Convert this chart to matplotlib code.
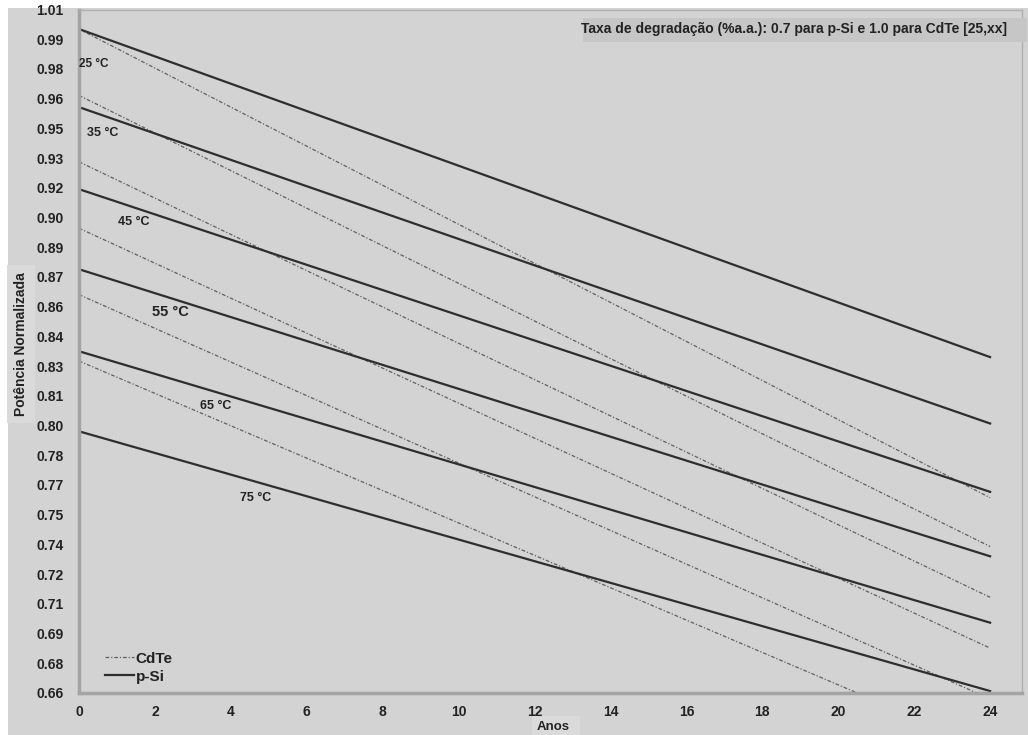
import numpy as np
import matplotlib
matplotlib.use("Agg")
import matplotlib.pyplot as plt
from matplotlib.patches import Rectangle

plt.rcParams["font.family"] = ["Liberation Sans", "DejaVu Sans"]

# dados (retas: valor no ano 0 e no ano 24)
anos = [0, 24]
temperaturas = ["25 °C", "35 °C", "45 °C", "55 °C", "65 °C", "75 °C"]
psi_inicio = [1.000, 0.960, 0.918, 0.877, 0.835, 0.794]
psi_fim = [0.832, 0.798, 0.763, 0.730, 0.696, 0.661]
cdte_inicio = [1.000, 0.966, 0.932, 0.898, 0.864, 0.830]
cdte_fim = [0.760, 0.735, 0.709, 0.683, 0.657, 0.631]

# posicao dos rotulos de temperatura (ano, potencia)
rotulo_x = [0.40, 0.63, 1.44, 2.42, 3.60, 4.66]
rotulo_y = [0.982, 0.947, 0.901, 0.855, 0.807, 0.760]
rotulo_tam = [8.5, 9, 9, 10.5, 9, 9]

ytick_labels = ["0.66", "0.68", "0.69", "0.71", "0.72", "0.74", "0.75", "0.77",
                "0.78", "0.80", "0.81", "0.83", "0.84", "0.86", "0.87", "0.89",
                "0.90", "0.92", "0.93", "0.95", "0.96", "0.98", "0.99", "1.01"]
xticks = list(range(0, 25, 2))

W, H = 1028, 735
fundo = "#d3d3d3"
fig = plt.figure(figsize=(W / 100, H / 100), dpi=100, facecolor="white")
fig.patches.append(Rectangle((8 / W, 0), 1 - 8 / W, 1 - 8 / H,
                             transform=fig.transFigure, facecolor=fundo,
                             edgecolor="none", zorder=-10))

aw = 1022 - 79
ah = 693 - 9.5
ax = fig.add_axes([79 / W, 1 - 693 / H, aw / W, ah / H])
ax.set_facecolor(fundo)

for i in range(len(temperaturas)):
    ax.plot(anos, [cdte_inicio[i], cdte_fim[i]], color="#606060", lw=0.9,
            linestyle=(0, (3, 1.5, 1, 1.5)), label="CdTe" if i == 0 else None)
    ax.plot(anos, [psi_inicio[i], psi_fim[i]], color="#2e2e2e", lw=1.6,
            label="p-Si" if i == 0 else None)
    ax.text(rotulo_x[i], rotulo_y[i], temperaturas[i], fontsize=rotulo_tam[i],
            fontweight="bold", color="#222222", ha="center", va="center")

ax.set_xlim(0, 24.84)
ax.set_ylim(0.66, 1.01)
ax.set_xticks(xticks)
ax.set_xticklabels([str(x) for x in xticks])
ax.set_yticks(np.linspace(0.66, 1.01, len(ytick_labels)))
ax.set_yticklabels(ytick_labels)
ax.tick_params(length=0, labelsize=10, colors="#222222")
ax.tick_params(axis="y", pad=11)
ax.tick_params(axis="x", pad=9)
for lab in ax.get_xticklabels() + ax.get_yticklabels():
    lab.set_fontweight("bold")

for s in ["top", "right"]:
    ax.spines[s].set_color("#b0b0b0")
    ax.spines[s].set_linewidth(1.0)
for s in ["left", "bottom"]:
    ax.spines[s].set_color("#a4a4a4")
    ax.spines[s].set_linewidth(2.5)

ax.set_ylabel("Potência Normalizada", fontsize=10, fontweight="bold", color="#222222",
              bbox=dict(facecolor="#dadada", edgecolor="none", pad=5))
ax.yaxis.set_label_coords((28 - 79) / aw, (693 - 344) / ah)

# caixa do rotulo "Anos" desenhada atras dos numeros do eixo
fig.patches.append(Rectangle((532 / W, 0), (580 - 532) / W, (735 - 716) / H,
                             transform=fig.transFigure, facecolor="#dadada",
                             edgecolor="none", zorder=-5))
fig.text(553 / W, 1 - 727 / H, "Anos", fontsize=9.5, fontweight="bold",
         color="#222222", ha="center", va="center")

fig.patches.append(Rectangle((583 / W, 1 - 42 / H), (1027 - 583) / W, 24 / H,
                             transform=fig.transFigure, facecolor="#c6c6c6",
                             edgecolor="none", zorder=5))
fig.text(1007 / W, 1 - 29 / H,
         "Taxa de degradação (%a.a.): 0.7 para p-Si e 1.0 para CdTe [25,xx]",
         fontsize=10, fontweight="bold", color="#222222", ha="right", va="center",
         zorder=6)

leg = ax.legend(loc="lower left", bbox_to_anchor=(14 / aw, -0.004),
                frameon=False, fontsize=11, handlelength=1.9, handletextpad=0.1,
                labelspacing=0.25, borderpad=0.3)
for t in leg.get_texts():
    t.set_fontweight("bold")
    t.set_color("#222222")

fig.savefig("out.png", dpi=100, facecolor="white")
